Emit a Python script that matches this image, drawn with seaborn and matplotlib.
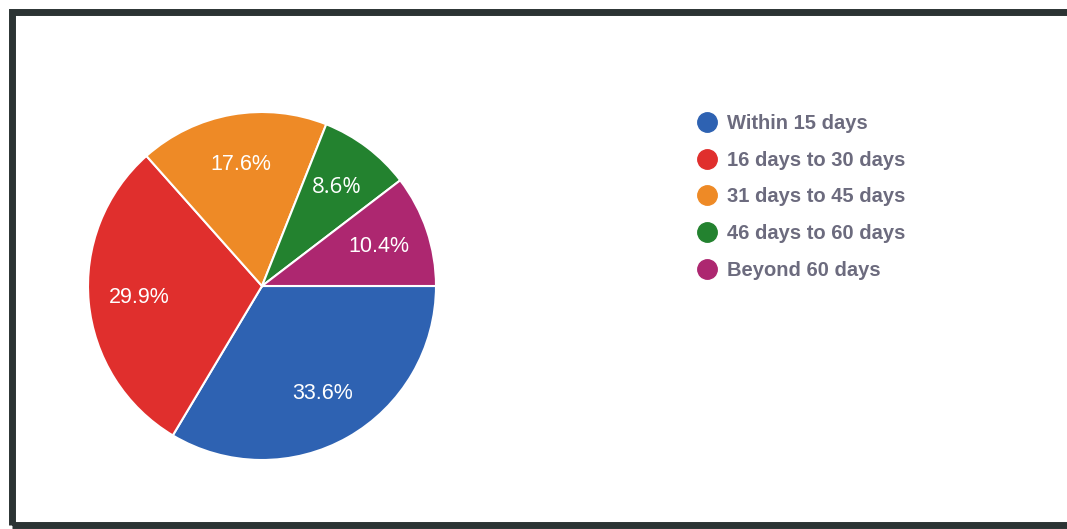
import matplotlib
matplotlib.use("Agg")
import matplotlib.pyplot as plt
from matplotlib.lines import Line2D
from matplotlib.patches import Rectangle
import seaborn as sns

# data
categories = ["Within 15 days", "16 days to 30 days", "31 days to 45 days",
              "46 days to 60 days", "Beyond 60 days"]
shares = [33.6, 29.9, 17.6, 8.6, 10.4]
colors = ["#2e62b2", "#e02f2d", "#ee8a26", "#23822f", "#ad2770"]

sns.set_theme(style="white")
plt.rcParams['font.family'] = ['Liberation Sans', 'DejaVu Sans']

W, H = 1067, 529
fig = plt.figure(figsize=(W / 100, H / 100), dpi=100)
fig.patch.set_facecolor("white")

# dark frame around the chart
frame = Rectangle((12 / W, 4 / H), 1060 / W, (H - 16) / H, transform=fig.transFigure,
                  fill=False, edgecolor="#2b3333", linewidth=5, clip_on=False)
fig.add_artist(frame)

# pie axes, centre (262, 286) px, radius 174 px
cx, cy, r = 262, 286, 174
ax = fig.add_axes([(cx - r) / W, (H - cy - r) / H, 2 * r / W, 2 * r / H])
wedges, texts, autotexts = ax.pie(
    shares, colors=colors, startangle=0, counterclock=False,
    autopct="%1.1f%%", pctdistance=0.71,
    wedgeprops=dict(edgecolor="white", linewidth=1.5),
    textprops=dict(color="white", fontsize=15.5),
)
ax.set_xlim(-1, 1)
ax.set_ylim(-1, 1)
ax.set_aspect("equal")
ax.axis("off")

# the 8.6% label uses a different face in the original
autotexts[3].set_fontfamily("Open Sans")
autotexts[3].set_fontsize(16)

# legend
handles = [Line2D([0], [0], marker="o", linestyle="", markersize=14,
                  markerfacecolor=c, markeredgecolor=c) for c in colors]
leg = fig.legend(handles, categories, loc="upper left",
                 bbox_to_anchor=(690 / W, 1 - 106 / H), frameon=False,
                 fontsize=14.5, labelspacing=0.88, handletextpad=0.55,
                 handlelength=0.9, borderaxespad=0)
for t in leg.get_texts():
    t.set_color("#6c6b7e")
    t.set_fontweight("bold")

fig.savefig("out.png", dpi=100)
